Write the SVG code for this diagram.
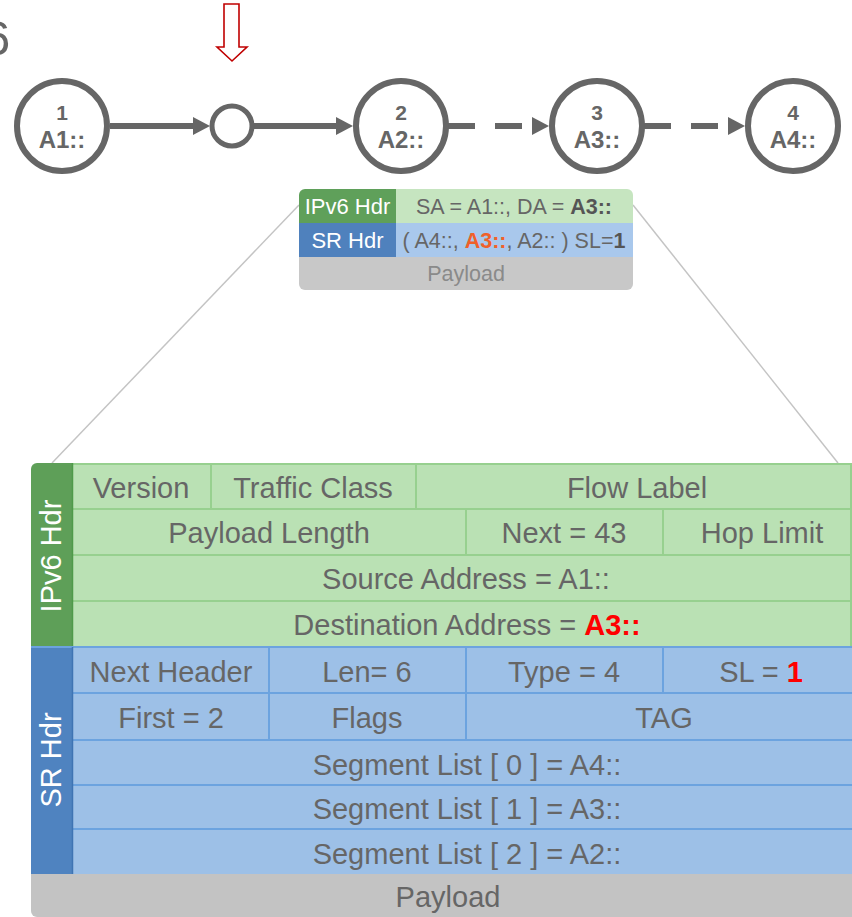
<svg xmlns="http://www.w3.org/2000/svg" width="852" height="917" viewBox="0 0 852 917">
<defs>
<style>
text { font-family: "Liberation Sans", Arial, sans-serif; }
.node { fill: #fff; stroke: #666; stroke-width: 6; }
.num { fill: #666; font-weight: bold; font-size: 21px; text-anchor: middle; }
.addr { fill: #666; font-weight: bold; font-size: 24px; text-anchor: middle; }
.conn { stroke: #666; stroke-width: 6; fill: none; }
.dash { stroke-dasharray: 27 20; }
.head { fill: #666; }
.zoom { stroke: #c4c4c4; stroke-width: 1.5; fill: none; }
.st { font-size: 21.5px; fill: #666; text-anchor: middle; }
.sw { font-size: 22px; fill: #fff; text-anchor: middle; }
.cell { fill: #666; font-size: 29px; text-anchor: middle; }
.vl { fill: #fff; font-size: 29px; text-anchor: middle; }
.gl { stroke: #97D08F; stroke-width: 2; }
.bl { stroke: #6CA3DF; stroke-width: 2; }
</style>
<clipPath id="smallClip"><rect x="299" y="189" width="334" height="101" rx="6"/></clipPath>
<clipPath id="bigClip"><rect x="31" y="463" width="840" height="454" rx="6"/></clipPath>
</defs>

<rect x="0" y="0" width="852" height="917" fill="#fff"/>

<text x="-17" y="55" font-size="49" fill="#666" font-family="Liberation Sans, Arial, sans-serif">6</text>

<g id="pointer">
<polygon points="224,4 239,4 239,47 247,47 232,61 217,47 224,47" fill="#fff" stroke="#c00000" stroke-width="1.6"/>
</g>

<g id="zoom-lines">
<line class="zoom" x1="299" y1="205" x2="52" y2="463"/>
<line class="zoom" x1="633" y1="205" x2="838" y2="463"/>
</g>

<g id="connectors">
<line class="conn" x1="110" y1="126" x2="196" y2="126"/>
<polygon class="head" points="193,117 210,126 193,135"/>
<line class="conn" x1="254" y1="126" x2="339" y2="126"/>
<polygon class="head" points="336,117 353,126 336,135"/>
<line class="conn dash" x1="448" y1="126" x2="522" y2="126"/>
<polygon class="head" points="532,117 549,126 532,135"/>
<line class="conn dash" x1="644" y1="126" x2="718" y2="126"/>
<polygon class="head" points="728,117 745,126 728,135"/>
</g>

<g id="node1">
<circle class="node" cx="62" cy="126" r="45"/>
<text class="num" x="62" y="120">1</text>
<text class="addr" x="62" y="148">A1::</text>
</g>
<g id="nodeMid">
<circle class="node" cx="232" cy="126" r="20" style="stroke-width:5"/>
</g>
<g id="node2">
<circle class="node" cx="401" cy="126" r="45"/>
<text class="num" x="401" y="120">2</text>
<text class="addr" x="401" y="148">A2::</text>
</g>
<g id="node3">
<circle class="node" cx="597" cy="126" r="45"/>
<text class="num" x="597" y="120">3</text>
<text class="addr" x="597" y="148">A3::</text>
</g>
<g id="node4">
<circle class="node" cx="793" cy="126" r="45"/>
<text class="num" x="793" y="120">4</text>
<text class="addr" x="793" y="148">A4::</text>
</g>

<g id="small-packet">
<g clip-path="url(#smallClip)">
<rect x="299" y="189" width="97" height="34" fill="#5FA05A"/>
<rect x="396" y="189" width="237" height="34" fill="#C6E5C0"/>
<rect x="299" y="223" width="97" height="34" fill="#4F81BD"/>
<rect x="396" y="223" width="237" height="34" fill="#A9C8EC"/>
<rect x="299" y="257" width="334" height="33" fill="#C8C8C8"/>
</g>
<text class="sw" x="347.5" y="214">IPv6 Hdr</text>
<text class="st" x="514" y="214">SA = A1::, DA = <tspan font-weight="bold" fill="#555">A3::</tspan></text>
<text class="sw" x="347.5" y="248">SR Hdr</text>
<text class="st" x="514" y="248">( A4::, <tspan font-weight="bold" fill="#F0602A">A3::</tspan>, A2:: ) SL=<tspan font-weight="bold" fill="#555">1</tspan></text>
<text class="st" x="466" y="281" style="fill:#8a8a8a">Payload</text>
</g>

<g id="big-packet">
<g clip-path="url(#bigClip)">
<rect x="31" y="463" width="42" height="184" fill="#5E9F58"/>
<rect x="73" y="463" width="800" height="184" fill="#BAE1B4"/>
<rect x="31" y="647" width="42" height="227" fill="#4F83C0"/>
<rect x="73" y="647" width="800" height="227" fill="#9DC0E7"/>
<rect x="31" y="874" width="840" height="43" fill="#C3C3C3"/>
</g>
<g id="ipv6-grid">
<line class="gl" x1="73" y1="464" x2="852" y2="464"/>
<line class="gl" x1="73" y1="509" x2="852" y2="509"/>
<line class="gl" x1="73" y1="555" x2="852" y2="555"/>
<line class="gl" x1="73" y1="601" x2="852" y2="601"/>
<line class="gl" x1="211" y1="463" x2="211" y2="509"/>
<line class="gl" x1="416" y1="463" x2="416" y2="509"/>
<line class="gl" x1="466" y1="509" x2="466" y2="555"/>
<line class="gl" x1="663" y1="509" x2="663" y2="555"/>
<line class="gl" x1="851" y1="463" x2="851" y2="647"/>
<line stroke="#4F9A4A" stroke-width="1.5" x1="72.5" y1="463" x2="72.5" y2="647"/>
</g>
<g id="sr-grid">
<line class="bl" x1="31" y1="647" x2="852" y2="647"/>
<line class="bl" x1="73" y1="693" x2="852" y2="693"/>
<line class="bl" x1="73" y1="740" x2="852" y2="740"/>
<line class="bl" x1="73" y1="785" x2="852" y2="785"/>
<line class="bl" x1="73" y1="829" x2="852" y2="829"/>
<line class="bl" x1="269" y1="647" x2="269" y2="740"/>
<line class="bl" x1="466" y1="647" x2="466" y2="740"/>
<line class="bl" x1="663" y1="647" x2="663" y2="693"/>
<line stroke="#3F74B3" stroke-width="1.5" x1="72.5" y1="647" x2="72.5" y2="874"/>
</g>
<text class="vl" transform="translate(61,556) rotate(-90)">IPv6 Hdr</text>
<text class="vl" transform="translate(61,760) rotate(-90)">SR Hdr</text>

<text class="cell" x="141" y="498">Version</text>
<text class="cell" x="313" y="498">Traffic Class</text>
<text class="cell" x="637" y="498">Flow Label</text>
<text class="cell" x="269" y="543">Payload Length</text>
<text class="cell" x="564" y="543">Next = 43</text>
<text class="cell" x="762" y="543">Hop Limit</text>
<text class="cell" x="466" y="589">Source Address = A1::</text>
<text class="cell" x="467" y="635">Destination Address = <tspan font-weight="bold" fill="#FF0000">A3::</tspan></text>
<text class="cell" x="171" y="682">Next Header</text>
<text class="cell" x="367" y="682">Len= 6</text>
<text class="cell" x="564" y="682">Type = 4</text>
<text class="cell" x="761" y="682">SL = <tspan font-weight="bold" fill="#FF0000">1</tspan></text>
<text class="cell" x="171" y="728">First = 2</text>
<text class="cell" x="367" y="728">Flags</text>
<text class="cell" x="664" y="728">TAG</text>
<text class="cell" x="467" y="775">Segment List [ 0 ] = A4::</text>
<text class="cell" x="467" y="819">Segment List [ 1 ] = A3::</text>
<text class="cell" x="467" y="864">Segment List [ 2 ] = A2::</text>
<text class="cell" x="448" y="907">Payload</text>
</g>
</svg>
